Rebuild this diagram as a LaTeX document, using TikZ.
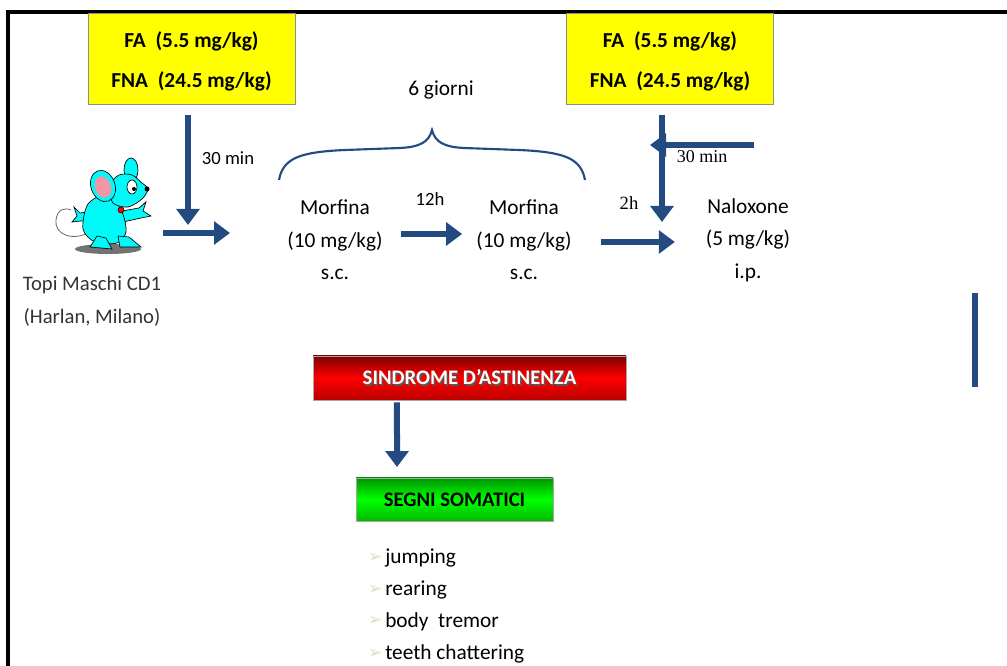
\documentclass[tikz,border=0pt]{standalone}
\usepackage{fontspec}
\setmainfont{Carlito}
\newfontfamily\timefont{Liberation Serif}
\newfontfamily\dingfont{DejaVu Sans}
\usetikzlibrary{arrows.meta}

\definecolor{flowblue}{RGB}{35,75,130}
\definecolor{dosefill}{RGB}{255,255,0}
\definecolor{mousecyan}{RGB}{0,250,250}
\definecolor{earpink}{RGB}{240,150,165}
\definecolor{bulletbeige}{RGB}{228,218,198}
\definecolor{redtop}{RGB}{125,0,0}
\definecolor{redmid}{RGB}{255,0,0}
\definecolor{redbot}{RGB}{185,0,0}
\definecolor{greentop}{RGB}{0,150,0}
\definecolor{greenmid}{RGB}{0,255,0}
\definecolor{greenbot}{RGB}{0,185,0}

% white caption with a soft drop shadow
\newcommand{\shadowed}[1]{\rlap{\kern1pt\raisebox{-1pt}{\color{black!65}#1}}#1}

\begin{document}
\begin{tikzpicture}[
    x=0.75pt, y=-0.75pt,
    flow/.style={draw=flowblue, line width=4.5pt, -{Triangle[width=17pt,length=12pt]}},
    dosebox/.style={rectangle, draw=black!45, fill=dosefill, minimum width=155pt, minimum height=68pt,
        align=center, font=\fontsize{16}{30}\selectfont\bfseries},
    drug/.style={align=center, inner sep=0pt, font=\fontsize{16}{24.5}\selectfont},
    delay/.style={font=\fontsize{14}{14}\selectfont},
    phase/.style={rectangle, draw=black!35, minimum height=33pt, align=center,
        font=\fontsize{15.5}{15.5}\selectfont\bfseries},
    symptom/.style={anchor=base west, inner sep=0pt, font=\fontsize{16}{16}\selectfont},
    bulletmark/.style={text=bulletbeige, font=\dingfont\fontsize{13}{13}\selectfont, inner sep=1.5pt},
    mouseline/.style={draw=black, line width=0.5pt, fill=mousecyan}
]
\useasboundingbox (0,0) rectangle (1007,666);

% frame
\draw[line width=2.3pt] (8,666) -- (8,12) -- (1007,12);

% pre-treatment boxes
\node[dosebox] (fa1) at (191.5,58.5) {\rule{0pt}{16pt}FA~~(5.5 mg/kg)\\FNA~~(24.5 mg/kg)};
\node[dosebox] (fa2) at (670,58.5) {\rule{0pt}{16pt}FA~~(5.5 mg/kg)\\FNA~~(24.5 mg/kg)};

% mouse
\begin{scope}
  \fill[black!55] (108,249) ellipse [x radius=33, y radius=5];
  \draw[black!60, line width=0.6pt] (90,232) .. controls (72,242) and (54,234) .. (56,220)
      .. controls (57,210) and (64,207) .. (71,210);
  \draw[mouseline] (95,211) -- (80,213) -- (74,207) -- (77,216) -- (72,222) -- (81,221) -- (96,222) -- cycle;
  \draw[mouseline] (122,211) -- (139,208) -- (146,202) -- (143,211) -- (151,216) -- (141,218) -- (123,222) -- cycle;
  \draw[mouseline] plot[smooth cycle] coordinates {(88,204) (108,194) (122,212) (126,232) (117,243) (95,242) (83,229)};
  \draw[mouseline] (97,236) -- (90,247) -- (112,249) -- (106,238) -- cycle;
  \draw[mouseline] (118,236) -- (120,247) -- (141,247) -- (129,237) -- cycle;
  \draw[mouseline] (131,170) ellipse [x radius=7, y radius=12];
  \draw[mouseline] plot[smooth cycle] coordinates {(109,186) (119,175) (132,175) (142,183) (148,189) (142,199) (128,207) (113,203)};
  \draw[mouseline, rotate around={20:(103,186)}] (103,186) ellipse [x radius=12, y radius=16];
  \fill[earpink, rotate around={20:(103,187)}] (103,187) ellipse [x radius=8, y radius=11];
  \draw[fill=white, line width=0.5pt] (132,187) ellipse [x radius=5, y radius=7];
  \fill (134,189) circle [radius=2];
  \fill (147,189) circle [radius=2.5];
  \draw[fill=red, line width=0.4pt] (121,210) circle [radius=3];
\end{scope}
\node[align=center, text=black!80, font=\fontsize{15.5}{24.75}\selectfont] (topi) at (92,301)
    {Topi Maschi CD1\\(Harlan, Milano)};

% morphine schedule
\node[drug] (morf1) at (335,240) {Morfina\\(10 mg/kg)\\s.c.};
\node[drug] (morf2) at (524,240) {Morfina\\(10 mg/kg)\\s.c.};
\node[drug] (nalox) at (748,240) {Naloxone\\(5 mg/kg)\\i.p.};
\node[font=\fontsize{16}{16}\selectfont] (giorni) at (441,90) {6 giorni};
\draw[flowblue, line width=1.6pt] (279,180) .. controls (283,158) and (300,152) .. (345,150)
    -- (400,148) .. controls (420,147) and (429,142) .. (432,130)
    .. controls (435,142) and (444,147) .. (464,148)
    -- (519,150) .. controls (564,152) and (581,158) .. (585,180);

% delays
\node[delay] (t30a) at (228,158) {30 min};
\node[delay] (t12) at (430,199) {12h};
\node[delay, font=\timefont\fontsize{14}{14}\selectfont] (t2) at (629,203) {2h};
\node[delay, font=\timefont\fontsize{13.5}{13.5}\selectfont] (t30b) at (702,157) {30 min};

% arrows
\coordinate (in1) at (188,225);
\coordinate (mouseR) at (163,233);
\coordinate (in1h) at (230,233);
\coordinate (in2) at (662,222);
\coordinate (stubB) at (754,145);
\coordinate (headB) at (650,145);
\draw[flow, shorten <=8pt] (fa1.south -| in1) -- (in1);
\draw[flow] (mouseR) -- (in1h);
\draw[flow, shorten <=13.5pt, shorten >=10.5pt] ([yshift=4.5pt]morf1.east) -- ([yshift=4.5pt]morf2.west);
\draw[flow, shorten <=21.75pt, shorten >=23pt] ([yshift=-1.5pt]morf2.east) -- ([yshift=-1.5pt]nalox.west);
\draw[flow, shorten <=8pt] (fa2.south -| in2) -- (in2);
\draw[flow] (stubB) -- (headB);

% side bar
\draw[flowblue, line width=5pt] (975,293) -- (975,387);

% withdrawal
\node[phase, minimum width=234.75pt, text=white,
    top color=redtop, bottom color=redbot, middle color=redmid]
    (sindrome) at (469.5,378) {\shadowed{SINDROME D’ASTINENZA}};
\node[phase, minimum width=147.75pt, minimum height=32.25pt,
    top color=greentop, bottom color=greenbot, middle color=greenmid]
    (segni) at (454.5,499.5) {SEGNI SOMATICI};
\draw[flow, shorten <=1.5pt, shorten >=8pt] ([xshift=-54.4pt]sindrome.south) -- ([xshift=-43.1pt]segni.north);

% somatic signs
\foreach \symptom [count=\i] in {jumping, rearing, {body\ \ tremor}, teeth chattering}
  \node[symptom, label={[bulletmark]left:➢}] (sign\i) at (385,531+32*\i) {\symptom};

\end{tikzpicture}
\end{document}
